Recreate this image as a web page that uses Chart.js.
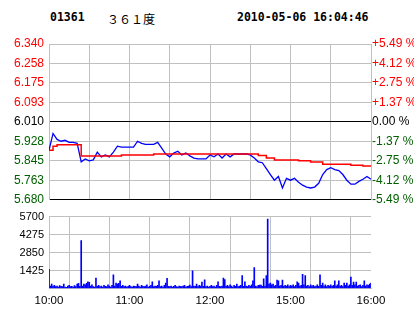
<!DOCTYPE html>
<html>
<head>
<meta charset="utf-8">
<script src="https://cdn.jsdelivr.net/npm/chart.js@4.4.1/dist/chart.umd.min.js"></script>
<style>
  body { margin: 0; background: #fff; }
  #wrap { position: relative; width: 414px; height: 314px; overflow: hidden; }
  .hd { position: absolute; top: 10px; line-height: 12px; white-space: nowrap; }
  #code { left: 50px; font: bold 11.5px "DejaVu Sans Mono"; }
  #name { left: 107px; font: 12px "Noto Sans CJK SC"; }
  #stamp { left: 237px; font: bold 11.5px "DejaVu Sans Mono"; }
  #main-chart { position: absolute; left: 0; top: 0; }
  #vol-chart { position: absolute; left: 0; top: 205px; }
</style>
</head>
<body>
<div id="wrap">
  <div class="hd" id="code">01361</div>
  <div class="hd" id="name">３６１度</div>
  <div class="hd" id="stamp">2010-05-06 16:04:46</div>
  <canvas id="main-chart" width="414" height="212"></canvas>
  <canvas id="vol-chart" width="414" height="109"></canvas>
</div>
<script>
// tick labels
let priceTicks = [5.680, 5.763, 5.845, 5.928, 6.010, 6.093, 6.175, 6.258, 6.340];
let priceLabels = ["5.680", "5.763", "5.845", "5.928", "6.010", "6.093", "6.175", "6.258", "6.340"];
let pctLabels = ["-5.49 %", "-4.12 %", "-2.75 %", "-1.37 %", "0.00 %", "+1.37 %", "+2.75 %", "+4.12 %", "+5.49 %"];
let volTicks = [0, 1425, 2850, 4275, 5700];
let timeLabels = ["10:00", "11:00", "12:00", "15:00", "16:00"];

// minutes since open for the price samples
let minutes = [
  0, 3, 6, 9, 12, 15, 18, 21, 24, 27, 30, 33, 36, 39, 42, 45, 48, 51, 54, 57,
  60, 63, 66, 69, 72, 75, 78, 81, 84, 87, 90, 93, 96, 99, 102, 105, 108, 111, 114, 117,
  120, 123, 126, 129, 132, 135, 138, 141, 144, 147, 150, 153, 156, 159, 162, 165, 168, 171, 174, 177,
  180, 183, 186, 189, 192, 195, 198, 201, 204, 207, 210, 213, 216, 219, 222, 225, 228, 231, 234, 237,
  240
];

// last price
let price = [
  5.890, 5.961, 5.936, 5.928, 5.932, 5.923, 5.923, 5.919, 5.841, 5.853,
  5.845, 5.849, 5.882, 5.862, 5.870, 5.862, 5.882, 5.907, 5.903, 5.903,
  5.903, 5.903, 5.928, 5.919, 5.915, 5.915, 5.915, 5.923, 5.899, 5.874,
  5.862, 5.878, 5.886, 5.870, 5.878, 5.866, 5.857, 5.853, 5.853, 5.853,
  5.870, 5.862, 5.874, 5.857, 5.874, 5.862, 5.874, 5.874, 5.874, 5.874,
  5.870, 5.857, 5.841, 5.837, 5.812, 5.787, 5.763, 5.779, 5.730, 5.771,
  5.763, 5.771, 5.754, 5.742, 5.734, 5.730, 5.734, 5.750, 5.787, 5.808,
  5.816, 5.808, 5.804, 5.787, 5.763, 5.746, 5.746, 5.758, 5.767, 5.779,
  5.767
];

// average price
let average = [
  5.890, 5.907, 5.913, 5.913, 5.913, 5.913, 5.913, 5.913, 5.866, 5.866,
  5.866, 5.866, 5.866, 5.866, 5.866, 5.866, 5.866, 5.866, 5.870, 5.870,
  5.870, 5.870, 5.870, 5.870, 5.870, 5.870, 5.874, 5.874, 5.874, 5.874,
  5.874, 5.874, 5.874, 5.874, 5.874, 5.874, 5.874, 5.874, 5.874, 5.874,
  5.874, 5.874, 5.874, 5.874, 5.874, 5.874, 5.874, 5.874, 5.874, 5.874,
  5.874, 5.874, 5.868, 5.868, 5.857, 5.857, 5.849, 5.849, 5.849, 5.849,
  5.849, 5.849, 5.845, 5.845, 5.845, 5.840, 5.840, 5.840, 5.831, 5.831,
  5.831, 5.831, 5.831, 5.831, 5.831, 5.826, 5.826, 5.826, 5.823, 5.823,
  5.823
];

// volume per minute
let volume = [
  1520, 200, 350, 180, 250, 150, 200, 120, 230, 180, 150, 350, 120, 100, 200, 250, 150, 180, 120, 230,
  150, 350, 400, 180, 3800, 200, 350, 300, 400, 520, 480, 200, 300, 150, 120, 830, 180, 250, 150, 200,
  120, 250, 180, 150, 300, 200, 120, 250, 1090, 200, 430, 350, 400, 600, 180, 250, 150, 200, 120, 180,
  250, 150, 120, 200, 180, 150, 350, 200, 120, 250, 180, 150, 200, 300, 120, 180, 250, 520, 150, 200,
  180, 250, 600, 150, 200, 120, 250, 430, 800, 180, 150, 200, 120, 180, 250, 150, 120, 200, 180, 150,
  200, 250, 120, 180, 200, 280, 150, 1400, 200, 180, 350, 150, 250, 200, 500, 180, 690, 150, 200, 120,
  180, 250, 150, 200, 120, 250, 520, 180, 150, 200, 830, 700, 180, 250, 150, 300, 200, 120, 250, 180,
  350, 150, 200, 250, 1020, 180, 520, 200, 150, 250, 180, 300, 600, 1660, 200, 150, 250, 280, 280, 180,
  760, 200, 1020, 5500, 350, 430, 300, 350, 200, 250, 660, 600, 200, 250, 660, 180, 250, 200, 300, 150,
  250, 200, 300, 150, 250, 520, 430, 200, 250, 1120, 300, 1020, 200, 250, 150, 300, 200, 250, 150, 200,
  300, 180, 1090, 250, 430, 200, 300, 150, 250, 200, 300, 180, 250, 600, 200, 300, 600, 200, 250, 150,
  430, 250, 430, 200, 300, 900, 250, 500, 300, 500, 200, 250, 300, 150, 250, 600, 200, 300, 250, 350,
  430
];

let gridGrey = "#c0c0c0";
let upRed = "#ff0000";
let downGreen = "#006000";

// colour for a price tick by its index (4 = previous close)
function tickColor(ctx) {
  if (ctx.index > 4) return upRed;
  if (ctx.index < 4) return downGreen;
  return "#000000";
}

let priceAxisTicks = (scale) => {
  scale.ticks = priceTicks.map((v) => ({ value: v }));
};

new Chart(document.getElementById("main-chart"), {
  type: "line",
  data: {
    datasets: [
      {
        label: "Average",
        data: minutes.map((m, i) => ({ x: m, y: average[i] })),
        borderColor: "#ff0000",
        borderWidth: 1.5,
        pointRadius: 0,
        stepped: true,
      },
      {
        label: "Price",
        data: minutes.map((m, i) => ({ x: m, y: price[i] })),
        borderColor: "#0000ff",
        borderWidth: 1.3,
        pointRadius: 0,
        tension: 0,
      },
    ],
  },
  options: {
    responsive: false,
    animation: false,
    layout: { padding: { top: 44, bottom: 8, left: 0, right: 0 } },
    plugins: { legend: { display: false }, tooltip: { enabled: false } },
    scales: {
      x: {
        type: "linear",
        min: 0,
        max: 240,
        ticks: { display: false, stepSize: 30 },
        grid: { color: gridGrey, drawTicks: false },
        border: { display: false },
        afterFit: (s) => { s.height = 0; },
      },
      y: {
        position: "left",
        min: 5.680,
        max: 6.340,
        afterBuildTicks: priceAxisTicks,
        afterFit: (s) => { s.width = 49; },
        ticks: {
          padding: 5,
          color: tickColor,
          font: { family: "Liberation Sans", size: 12 },
          callback: (v, i) => priceLabels[i],
        },
        grid: {
          drawTicks: false,
          color: (ctx) => (ctx.index === 0 || ctx.index === 4 ? "#000000" : gridGrey),
        },
        border: { color: gridGrey },
      },
      y2: {
        position: "right",
        min: 5.680,
        max: 6.340,
        afterBuildTicks: priceAxisTicks,
        afterFit: (s) => { s.width = 43; },
        ticks: {
          padding: 1,
          color: tickColor,
          font: { family: "Liberation Sans", size: 12 },
          callback: (v, i) => pctLabels[i],
        },
        grid: { display: false, drawTicks: false },
        border: { color: gridGrey },
      },
    },
  },
});

new Chart(document.getElementById("vol-chart"), {
  type: "bar",
  data: {
    datasets: [
      {
        label: "Volume",
        data: volume.map((v, i) => ({ x: i, y: v })),
        backgroundColor: "#0000ff",
        barThickness: 1,
      },
    ],
  },
  options: {
    responsive: false,
    animation: false,
    layout: { padding: { top: 4, bottom: 0, left: 0, right: 43 } },
    plugins: { legend: { display: false }, tooltip: { enabled: false } },
    scales: {
      x: {
        type: "linear",
        min: 0,
        max: 240,
        offset: false,
        afterFit: (s) => { s.height = 25.5; },
        ticks: {
          stepSize: 30,
          autoSkip: false,
          maxRotation: 0,
          padding: 5,
          color: "#000000",
          font: { family: "Liberation Sans", size: 11.5 },
          callback: (v) => (v % 60 === 0 ? timeLabels[v / 60] : ""),
        },
        grid: { color: gridGrey, drawTicks: false },
        border: { color: gridGrey },
      },
      y: {
        min: 0,
        max: 5700,
        afterBuildTicks: (s) => { s.ticks = volTicks.map((v) => ({ value: v })); },
        afterFit: (s) => { s.width = 49; },
        ticks: {
          padding: 5,
          color: "#000000",
          font: { family: "Liberation Sans", size: 11 },
          callback: (v) => (v === 0 ? "" : String(v)),
        },
        grid: { color: gridGrey, drawTicks: false },
        border: { color: gridGrey },
      },
    },
  },
});
</script>
</body>
</html>
